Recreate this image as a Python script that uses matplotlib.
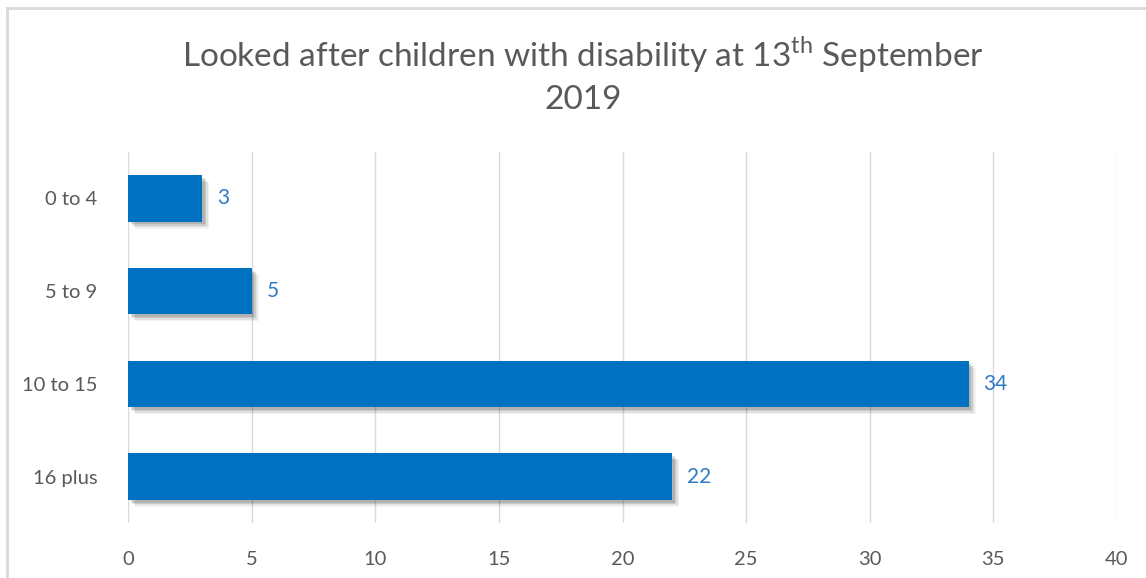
import matplotlib.pyplot as plt
import matplotlib.patheffects as pe
from matplotlib.lines import Line2D

# ── Data ─────────────────────────────────────────────────────
categories = ['0 to 4', '5 to 9', '10 to 15', '16 plus']
counts = [3, 5, 34, 22]
x_ticks = [0, 5, 10, 15, 20, 25, 30, 35, 40]

BAR = '#0070C0'
LABEL = '#2E7BC4'
TEXT = '#595959'

plt.rcParams['font.family'] = ['Lato', 'DejaVu Sans']
plt.rcParams['mathtext.fontset'] = 'custom'
plt.rcParams['mathtext.rm'] = 'Lato'

fig = plt.figure(figsize=(11.46, 5.78), dpi=100)
ax = fig.add_axes([128 / 1146, 1 - 523 / 578, (1117 - 128) / 1146, (523 - 152) / 578])

# soft drop shadow, built from a few offset layers
shadow = [pe.SimplePatchShadow(offset=(o, -o), shadow_rgbFace='k', alpha=a)
          for o, a in [(5, 0.05), (4, 0.07), (3, 0.09), (2, 0.12)]] + [pe.Normal()]

ypos = range(len(categories))
bars = ax.barh(ypos, counts, height=0.5, color=BAR, zorder=3)
for b in bars:
    b.set_path_effects(shadow)

for y, v in zip(ypos, counts):
    ax.text(v + 0.6, y, str(v), va='center', ha='left', fontsize=15, color=LABEL)

ax.set_yticks(list(ypos))
ax.set_yticklabels(categories, fontsize=14.5, color=TEXT)
ax.set_ylim(3.5, -0.5)
ax.set_xlim(0, 40)
ax.set_xticks(x_ticks)
ax.set_xticklabels([str(t) for t in x_ticks], fontsize=14.5, color=TEXT)
ax.tick_params(axis='both', length=0)
ax.tick_params(axis='y', pad=22)
ax.tick_params(axis='x', pad=20)
ax.grid(axis='x', color='#D9D9D9', lw=1, zorder=0)
for s in ax.spines.values():
    s.set_visible(False)

fig.text(583 / 1146, 1 - 55 / 578, 'Looked after children with disability at 13$^{\\mathrm{th}}$ September',
         ha='center', va='center', fontsize=24, color=TEXT)
fig.text(583 / 1146, 1 - 100 / 578, '2019', ha='center', va='center', fontsize=24, color=TEXT)

# chart frame: only top and left edges are inside the picture
fig.add_artist(Line2D([7 / 1146, 7 / 1146], [0, 1 - 8 / 578], transform=fig.transFigure,
                      color='#D9D9D9', lw=2))
fig.add_artist(Line2D([7 / 1146, 1], [1 - 8 / 578, 1 - 8 / 578], transform=fig.transFigure,
                      color='#D9D9D9', lw=2))

fig.savefig('out.png', dpi=100)
